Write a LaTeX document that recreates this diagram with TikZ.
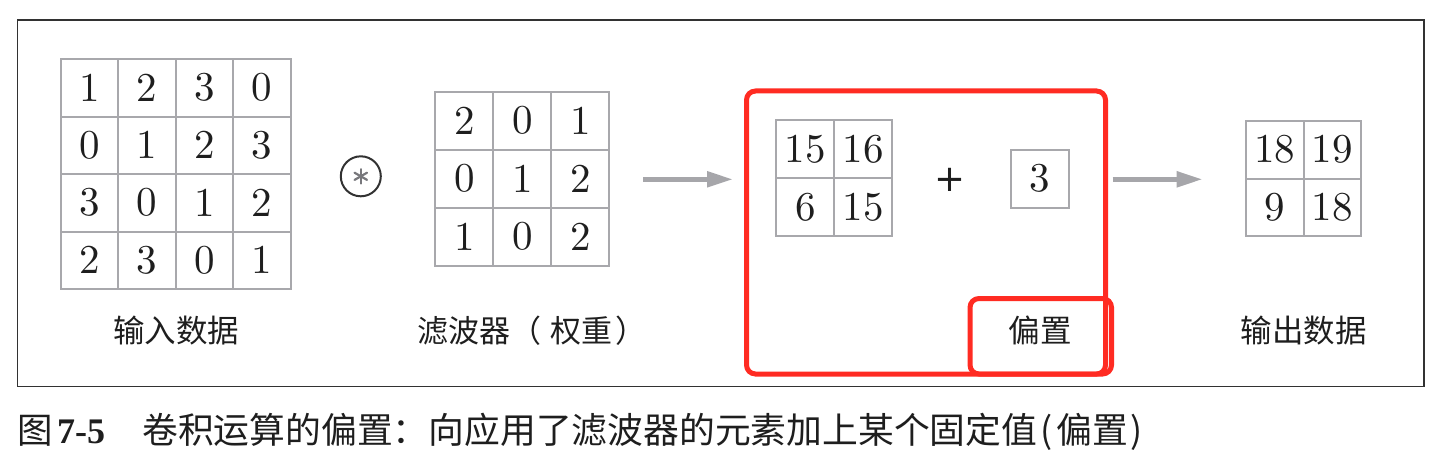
\documentclass[tikz,border=0pt]{standalone}
\usepackage{fontspec}
\newfontfamily\cjk{Noto Sans CJK SC}
\newfontfamily\capnumfont{Liberation Serif}
\newfontfamily\plusfont{DejaVu Sans}
\newfontfamily\digitfont{lmroman10-regular.otf}
\usetikzlibrary{arrows.meta}
\definecolor{gridgray}{RGB}{168,168,172}
\definecolor{arrowgray}{RGB}{166,166,170}
\definecolor{boxred}{RGB}{255,43,34}
\definecolor{framegray}{RGB}{50,50,50}
\definecolor{inkblack}{RGB}{30,30,30}
\definecolor{astgray}{RGB}{120,120,124}
\begin{document}
\begin{tikzpicture}[x=1pt,y=-1pt,
  cellbox/.style={draw=gridgray, line width=2pt, inner sep=0pt, text=inkblack,
    font=\digitfont\fontsize{41}{50}\selectfont},
  lab/.style={inner sep=0pt, anchor=base, text=inkblack, font=\cjk\fontsize{31.5}{38}\selectfont},
  arr/.style={draw=arrowgray, line width=5pt, -{Triangle[length=26pt,width=15pt]}},
  redbox/.style={draw=boxred, line width=5pt, rounded corners=9pt},
  captxt/.style={inner sep=0pt, anchor=base west, text=inkblack},
  spoke/.style={draw=astgray, line width=2.2pt, line cap=round}]
\useasboundingbox (0,0) rectangle (1452,460);
% frame
\draw[draw=framegray, line width=1.6pt] (17.5,20) rectangle (1424,386.5);
% input grid
\foreach \row [count=\i] in {{1,2,3,0},{0,1,2,3},{3,0,1,2},{2,3,0,1}}
  \foreach \v [count=\j] in \row
    \node[cellbox, minimum size=57.5pt] (in-\i-\j) at ({60.5+57.5*(\j-0.5)},{59+57.5*(\i-0.5)}) {\v};
\node[lab] (inlab) at (176,342) {输入数据};
% convolution operator
\node[circle, draw=framegray, line width=2pt, minimum size=40pt, inner sep=0pt] (conv) at (360.8,176.3) {};
\foreach \a in {90,30,-30,-90,-150,150}
  \draw[spoke] (conv.center) -- ++(\a:7.2);
% filter grid
\foreach \row [count=\i] in {{2,0,1},{0,1,2},{1,0,2}}
  \foreach \v [count=\j] in \row
    \node[cellbox, minimum size=58pt] (fi-\i-\j) at ({435.3+58*(\j-0.5)},{91.7+58*(\i-0.5)}) {\v};
\node[lab, font=\cjk\fontsize{31}{38}\selectfont] (filab) at (532,342) {滤波器（\kern10pt权重\kern3pt）};
% arrow 1
\coordinate (a1s) at (643,179.3);
\coordinate (a1e) at (733,179.3);
\draw[arr] (a1s) -- (a1e);
% red boxes
\draw[redbox] (746.5,91) rectangle (1105.5,374);
\draw[redbox] (970,298.5) rectangle (1111.5,374);
% conv result grid
\foreach \row [count=\i] in {{15,16},{6,15}}
  \foreach \v [count=\j] in \row
    \node[cellbox, minimum size=58pt] (cr-\i-\j) at ({776.3+58*(\j-0.5)},{120.3+58*(\i-0.5)}) {\v};
\node[inner sep=0pt, text=inkblack, font=\plusfont\fontsize{37}{40}\selectfont] (plussign) at (950,180) {+};
\node[cellbox, minimum size=58pt] (bias) at (1040,178.7) {3};
\node[lab] (biaslab) at (1040,342) {偏置};
% arrow 2
\coordinate (a2s) at (1112.7,179.3);
\coordinate (a2e) at (1202.7,179.3);
\draw[arr] (a2s) -- (a2e);
% output grid
\foreach \row [count=\i] in {{18,19},{9,18}}
  \foreach \v [count=\j] in \row
    \node[cellbox, minimum size=57.8pt] (out-\i-\j) at ({1245.7+57.8*(\j-0.5)},{120.7+57.8*(\i-0.5)}) {\v};
\node[lab] (outlab) at (1303.8,342) {输出数据};
% caption
\node[captxt, font=\cjk\fontsize{35.5}{40}\selectfont] (capfig) at (17,443) {图};
\node[captxt, font=\capnumfont\bfseries\fontsize{36}{40}\selectfont] (capnum) at (57,443) {7-5};
\node[captxt, font=\cjk\fontsize{35.8}{40}\selectfont] (captext) at (142,443) {卷积运算的偏置：向应用了滤波器的元素加上某个固定值\kern3pt(\kern4pt偏置\kern3pt)};
\end{tikzpicture}
\end{document}
